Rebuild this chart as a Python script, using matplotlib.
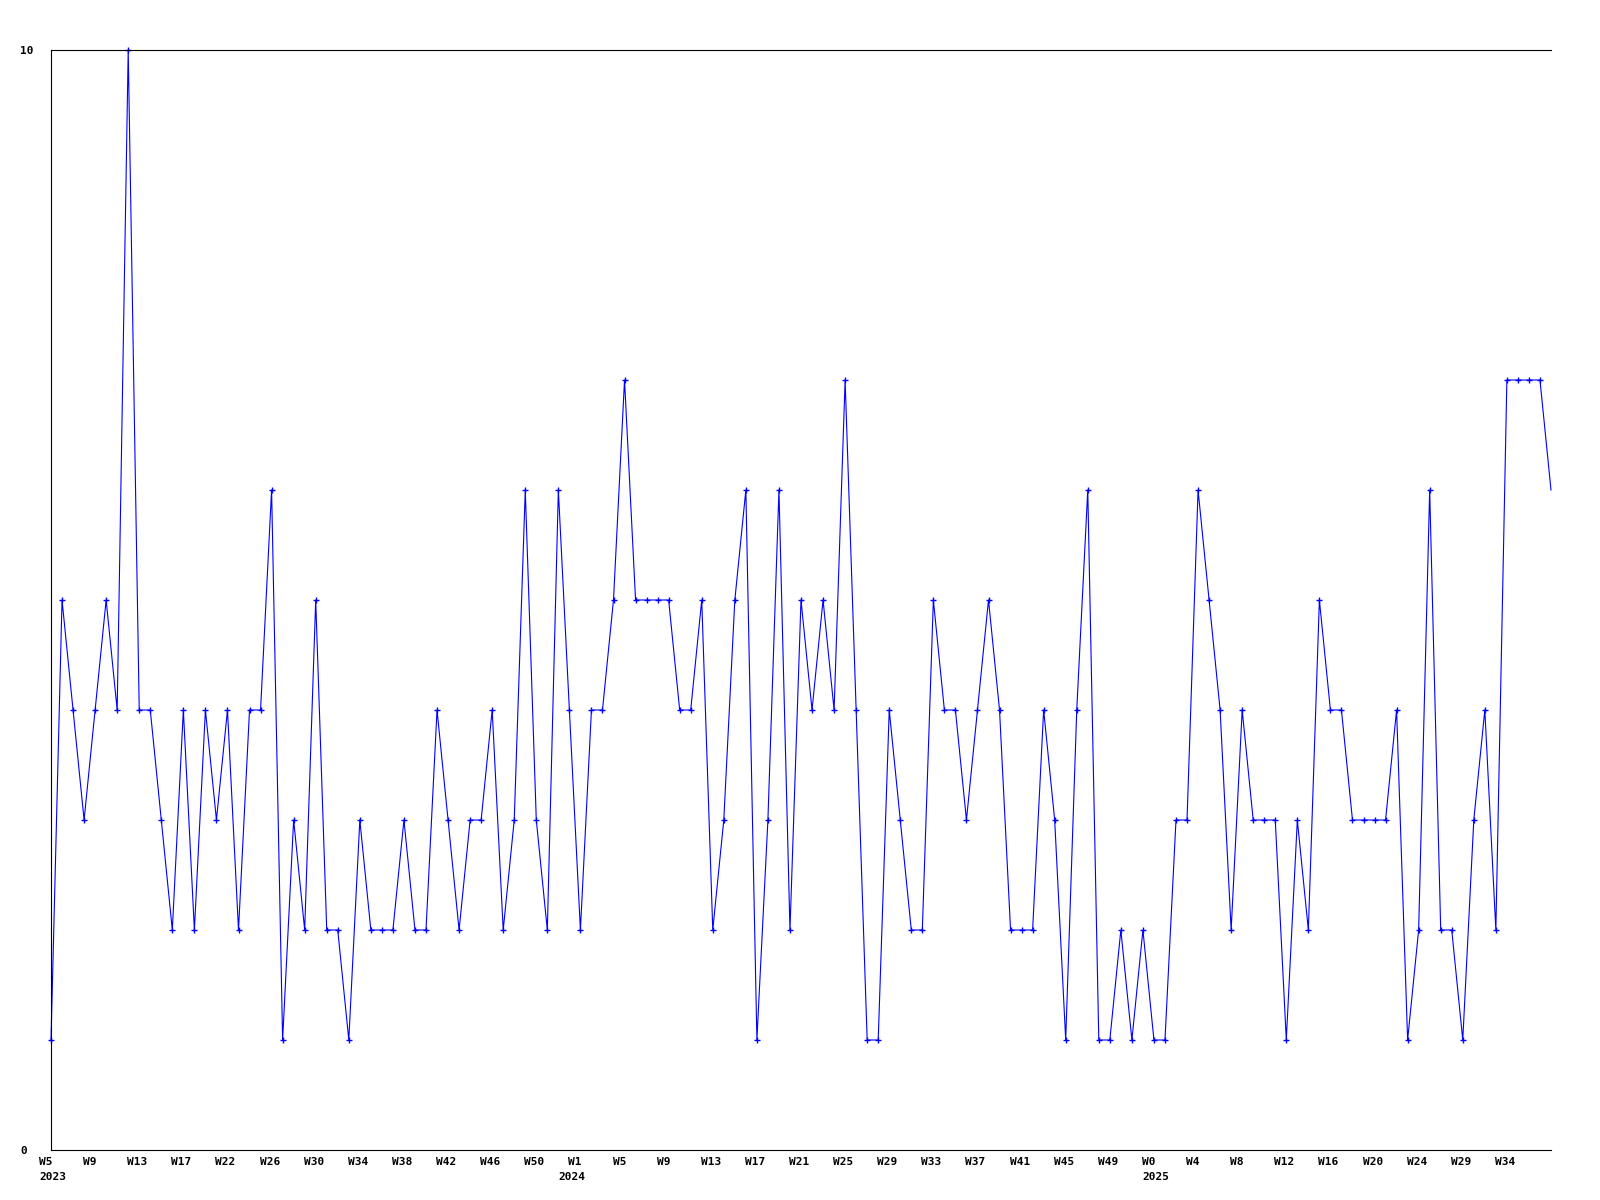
import numpy as np
import matplotlib.pyplot as plt
from matplotlib.transforms import blended_transform_factory

# weekly values, one per point
values = [
    1, 5, 4, 3, 4, 5, 4, 10, 4, 4, 3, 2, 4, 2, 4, 3, 4, 2, 4, 4,
    6, 1, 3, 2, 5, 2, 2, 1, 3, 2, 2, 2, 3, 2, 2, 4, 3, 2, 3, 3,
    4, 2, 3, 6, 3, 2, 6, 4, 2, 4, 4, 5, 7, 5, 5, 5, 5, 4, 4, 5,
    2, 3, 5, 6, 1, 3, 6, 2, 5, 4, 5, 4, 7, 4, 1, 1, 4, 3, 2, 2,
    5, 4, 4, 3, 4, 5, 4, 2, 2, 2, 4, 3, 1, 4, 6, 1, 1, 2, 1, 2,
    1, 1, 3, 3, 6, 5, 4, 2, 4, 3, 3, 3, 1, 3, 2, 5, 4, 4, 3, 3,
    3, 3, 4, 1, 2, 6, 2, 2, 1, 3, 4, 2, 7, 7, 7, 7, 6,
]

week_labels = [
    'W5', 'W9', 'W13', 'W17', 'W22', 'W26', 'W30', 'W34', 'W38', 'W42', 'W46', 'W50',
    'W1', 'W5', 'W9', 'W13', 'W17', 'W21', 'W25', 'W29', 'W33', 'W37', 'W41', 'W45', 'W49',
    'W0', 'W4', 'W8', 'W12', 'W16', 'W20', 'W24', 'W29', 'W34',
]
year_labels = ['2023', '2024', '2025']
year_label_idx = [0, 12, 25]

x = np.arange(len(values))

fig = plt.figure(figsize=(16, 12), dpi=100)
ax = fig.add_axes([51 / 1600, 50 / 1200, 1500 / 1600, 1100 / 1200])

ax.plot(x, values, color='#0000ff', lw=0.8, marker='+', ms=5, mew=1.0,
        markevery=list(range(len(values) - 1)), clip_on=False)

ax.set_xlim(0, len(values) - 1)
ax.set_ylim(0, 10)

for side in ['right']:
    ax.spines[side].set_visible(False)
for side in ['left', 'top', 'bottom']:
    ax.spines[side].set_linewidth(0.8)

ax.set_xticks([])
ax.set_yticks([0, 10])
ax.tick_params(axis='y', length=0, pad=22.3)
for lbl in ax.get_yticklabels():
    lbl.set_ha('left')
    lbl.set_fontfamily('DejaVu Sans Mono')
    lbl.set_fontweight('bold')
    lbl.set_fontsize(8)

# week labels every 4 points, left aligned slightly before the point
trans = blended_transform_factory(ax.transData, fig.transFigure)
font = dict(family='DejaVu Sans Mono', weight='bold', size=8)
for k, lab in enumerate(week_labels):
    ax.text(4 * k - 1.09, 1 - 1162 / 1200, lab, transform=trans,
            ha='left', va='center', **font)

year_offset = [-1.09, -2.0, -1.09]
for lab, idx, off in zip(year_labels, year_label_idx, year_offset):
    ax.text(4 * idx + off, 1 - 1177 / 1200, lab, transform=trans,
            ha='left', va='center', **font)

plt.savefig('out.png', dpi=100)
